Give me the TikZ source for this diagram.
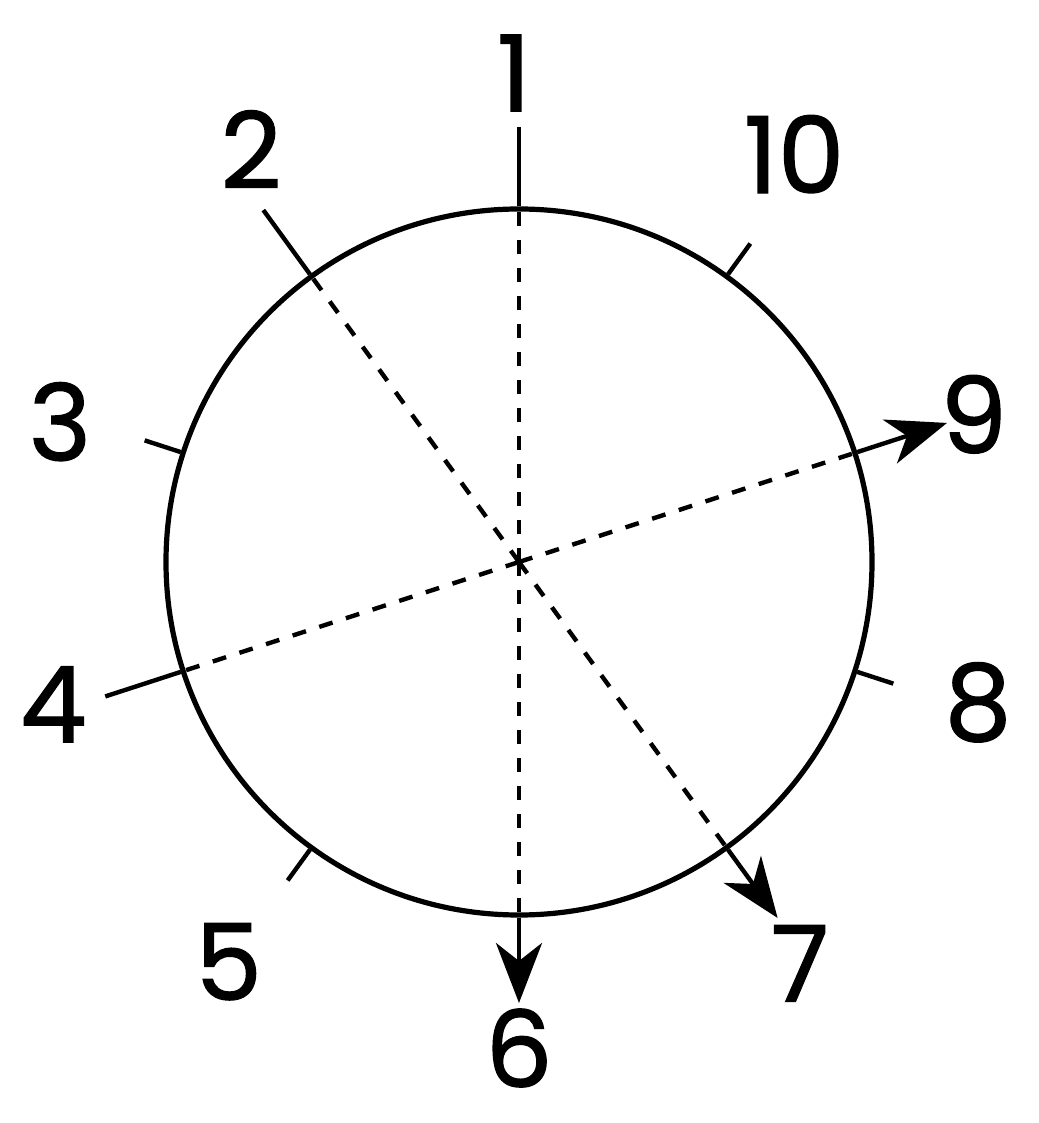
\documentclass[tikz,border=0pt]{standalone}
\usepackage{fontspec}
\newfontfamily\numfont{Poppins}[FakeBold=1.2]
\usetikzlibrary{arrows.meta}

\begin{document}
\begin{tikzpicture}[
    x=0.5pt,y=0.5pt,>={Stealth[length=30pt,width=23pt,inset=9pt]},
  rim/.style={circle,draw,line width=2.6pt,minimum size=353pt,inner sep=0pt},
  ray/.style={line width=2.2pt},
  hidden/.style={ray,dash pattern=on 7pt off 7pt},
  tick/.style={line width=2.2pt},
  num/.style={font=\numfont\fontsize{53}{60}\selectfont,inner sep=0pt},
]
  \useasboundingbox (-519,-561) rectangle (519,562);

  \coordinate (c) at (0,0);
  \node[rim] (dial) at (c) {};

  \node[num] (n1)  at (90.6:489) {1};
  \node[num] (n2)  at (123:492) {2};
  \node[num] (n3)  at (163:480) {3};
  \node[num] (n4)  at (197:487) {4};
  \node[num] (n5)  at (234:494) {5};
  \node[num] (n6)  at (270:486) {6};
  \node[num] (n7)  at (305:490) {7};
  \node[num] (n8)  at (343:480) {8};
  \node[num] (n9)  at (18:478)  {9};
  \node[num] (n10) at (56:492)  {10};

  \coordinate (s1) at (90:435);
  \coordinate (s2) at (126:435);
  \coordinate (s4) at (198:435);
  \coordinate (e6) at (270:441);
  \coordinate (e7) at (306:440);
  \coordinate (e9) at (18:450);

  % 1 -> 6
  \draw[ray] (s1) -- (dial.90);
  \draw[hidden] (c) -- (dial.90);
  \draw[hidden] (c) -- (dial.270);
  \draw[ray,->] (dial.270) -- (e6);

  % 2 -> 7
  \draw[ray] (s2) -- (dial.126);
  \draw[hidden] (c) -- (dial.126);
  \draw[hidden] (c) -- (dial.306);
  \draw[ray,->] (dial.306) -- (e7);

  % 4 -> 9
  \draw[ray] (s4) -- (dial.198);
  \draw[hidden] (c) -- (dial.198);
  \draw[hidden] (c) -- (dial.18);
  \draw[ray,->] (dial.18) -- (e9);

  % ticks
  \draw[tick] (dial.54)  -- ++(54:38);
  \draw[tick] (dial.162) -- ++(162:38);
  \draw[tick] (dial.234) -- ++(234:38);
  \draw[tick] (dial.342) -- ++(342:38);
\end{tikzpicture}
\end{document}
